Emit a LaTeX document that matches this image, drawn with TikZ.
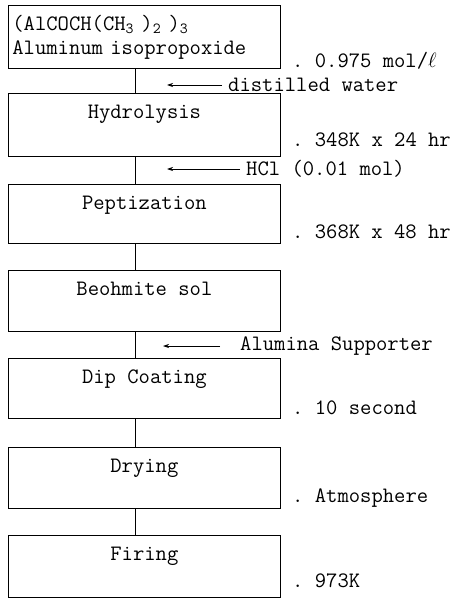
\documentclass[tikz,border=0pt]{standalone}
\usepackage{fontspec}
\usetikzlibrary{arrows.meta}

\begin{document}
\begin{tikzpicture}[x=1pt,y=-1pt,
  every node/.style={font=\ttfamily\fontsize{22}{21}\selectfont},
  stepbox/.style={draw,line width=0.8pt,anchor=north west,minimum width=272pt,inner xsep=0pt,inner ysep=0pt,text height=25pt},
  cond/.style={anchor=west,inner sep=0pt},
  feed/.style={-{Stealth[length=6pt,width=4pt]},line width=0.7pt}]
\useasboundingbox (0,0) rectangle (459,599);
\node[draw,line width=0.8pt,anchor=north west,minimum height=63pt,text width=264pt,inner xsep=4pt,align=left] (src) at (8,5) {(AlCOCH(CH\textsubscript{3} )\textsubscript{2} )\textsubscript{3}\\[3pt]Aluminum isopropoxide};
\node[stepbox,text depth=38pt] (hyd) at (8,93) {Hydrolysis};
\node[stepbox,text depth=34pt] (pep) at (8,184) {Peptization};
\node[stepbox,text depth=36pt] (sol) at (8,270) {Beohmite sol};
\node[stepbox,text depth=35pt] (dip) at (8,358) {Dip Coating};
\node[stepbox,text depth=36pt] (dry) at (8,447) {Drying};
\node[stepbox,text depth=37pt] (fir) at (8,535) {Firing};
\coordinate (spine) at (135,0);
\foreach \a/\b in {src/hyd,hyd/pep,pep/sol,sol/dip,dip/dry,dry/fir}
  \draw[line width=1pt] (\a.south -| spine) -- (\b.north -| spine);
\node[cond] (c1) at (292,61) {.\ 0.975 mol/$\ell$};
\node[cond] (c2) at (292,140) {.\ 348K x 24 hr};
\node[cond] (c3) at (292,232) {.\ 368K x 48 hr};
\node[cond] (c5) at (292,408) {.\ 10 second};
\node[cond] (c6) at (292,498) {.\ Atmosphere};
\node[cond] (c7) at (292,581) {.\ 973K};
\node[cond] (water) at (228,85) {distilled water};
\node[cond] (acid) at (246,169) {HCl (0.01 mol)};
\node[cond] (supp) at (240,346) {Alumina Supporter};
\coordinate (w) at (167,85);
\coordinate (h) at (167,169);
\coordinate (s) at (163,346);
\draw[feed,shorten <=6pt] (water.west) -- (w);
\draw[feed,shorten <=6pt] (acid.west) -- (h);
\draw[feed,shorten <=20pt] (supp.west) -- (s);
\end{tikzpicture}
\end{document}
